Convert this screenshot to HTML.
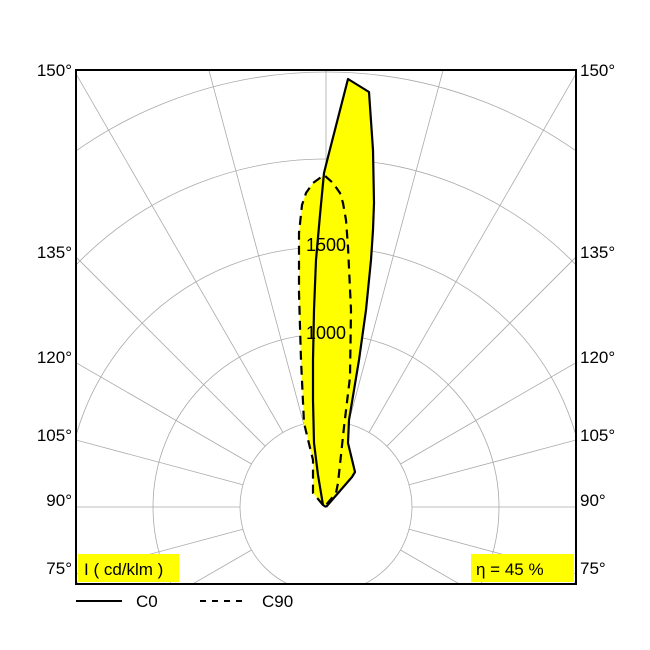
<!DOCTYPE html>
<html><head><meta charset="utf-8"><style>
html,body{margin:0;padding:0;background:#fff;width:650px;height:650px;overflow:hidden;}
svg{display:block;font-family:"Liberation Sans",sans-serif;}
</style></head><body>
<svg width="650" height="650" viewBox="0 0 650 650">
<defs><clipPath id="c"><rect x="76" y="70" width="500" height="514"/></clipPath></defs>
<g clip-path="url(#c)" stroke="#aaa" stroke-width="0.8" fill="none">
<circle cx="326" cy="507" r="86"/>
<circle cx="326" cy="507" r="173"/>
<circle cx="326" cy="507" r="260"/>
<circle cx="326" cy="507" r="348"/>
<circle cx="326" cy="507" r="435"/>
<circle cx="326" cy="507" r="522"/>
</g>
<g clip-path="url(#c)" stroke="#aaa" stroke-width="0.8">
<line x1="326" y1="421" x2="326" y2="-100"/>
<line x1="348.3" y1="423.9" x2="481.3" y2="-72.4"/>
<line x1="369" y1="432.5" x2="626" y2="-12.9"/>
<line x1="386.8" y1="446.2" x2="750.3" y2="82.7"/>
<line x1="400.5" y1="464" x2="845.6" y2="207"/>
<line x1="409.1" y1="484.7" x2="905.5" y2="351.7"/>
<line x1="412" y1="507" x2="926" y2="507"/>
<line x1="409.1" y1="529.3" x2="905.5" y2="662.3"/>
<line x1="400.5" y1="550" x2="845.6" y2="807"/>
<line x1="303.7" y1="423.9" x2="170.7" y2="-72.4"/>
<line x1="283" y1="432.5" x2="26" y2="-12.9"/>
<line x1="265.2" y1="446.2" x2="-98.3" y2="82.7"/>
<line x1="251.5" y1="464" x2="-193.6" y2="207"/>
<line x1="242.9" y1="484.7" x2="-253.5" y2="351.7"/>
<line x1="240" y1="507" x2="-274" y2="507"/>
<line x1="242.9" y1="529.3" x2="-253.5" y2="662.3"/>
<line x1="251.5" y1="550" x2="-193.6" y2="807"/>
</g>
<g fill="#ffff00" stroke="none">
<polygon points="326,507 352,477 355,472 348,443 349,420 359,360 366,310 371,260 373,230 374,203 373,150 369,92 348,79 328,157 324,173 320,215 316,260 314,310 313,360 313,400 314,443 318,475 323,505"/>
<polygon points="323,505 313,493 313,460 304,423 301,360 299,293 299,233 302,205 306,193 313,183 324,175 333,183 340,193 343,203 346,220 348,247 351,310 350,377 344,427 338,483 336,493"/>
</g>
<polyline fill="none" stroke="#000" stroke-width="2.2" stroke-linejoin="round" points="326,507 352,477 355,472 348,443 349,420 359,360 366,310 371,260 373,230 374,203 373,150 369,92 348,79 328,157 324,173 320,215 316,260 314,310 313,360 313,400 314,443 318,475 323,505 326,507"/>
<polyline fill="none" stroke="#000" stroke-width="2.2" stroke-dasharray="9,6" points="323,505 313,493 313,460 304,423 301,360 299,293 299,233 302,205 306,193 313,183 324,175 333,183 340,193 343,203 346,220 348,247 351,310 350,377 344,427 338,483 336,493 326,505"/>
<text x="326" y="251" font-size="18" text-anchor="middle">1500</text>
<text x="326" y="339" font-size="18" text-anchor="middle">1000</text>
<rect x="76" y="70" width="500" height="514" fill="none" stroke="#000" stroke-width="2"/>
<g font-size="17">
<text x="72" y="76" text-anchor="end">150°</text>
<text x="72" y="258" text-anchor="end">135°</text>
<text x="72" y="363" text-anchor="end">120°</text>
<text x="72" y="441" text-anchor="end">105°</text>
<text x="72" y="506" text-anchor="end">90°</text>
<text x="72" y="574" text-anchor="end">75°</text>
<text x="580" y="76">150°</text>
<text x="580" y="258">135°</text>
<text x="580" y="363">120°</text>
<text x="580" y="441">105°</text>
<text x="580" y="506">90°</text>
<text x="580" y="574">75°</text>
</g>
<rect x="78" y="554" width="101" height="28" fill="#ffff00"/>
<text x="84" y="575" font-size="17">I ( cd/klm )</text>
<rect x="471" y="554" width="103" height="28" fill="#ffff00"/>
<text x="476" y="575" font-size="17">η = 45 %</text>
<line x1="76" y1="601" x2="122" y2="601" stroke="#000" stroke-width="2"/>
<text x="136" y="607" font-size="17">C0</text>
<line x1="200" y1="601" x2="246" y2="601" stroke="#000" stroke-width="2" stroke-dasharray="6,6"/>
<text x="262" y="607" font-size="17">C90</text>
</svg>
</body></html>
